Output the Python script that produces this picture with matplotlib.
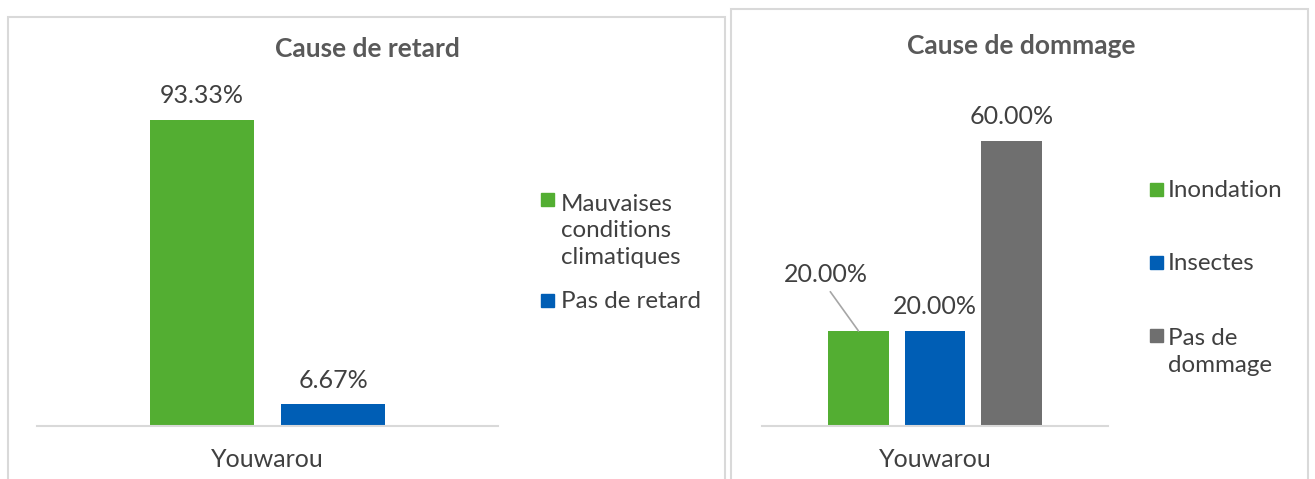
import matplotlib
matplotlib.use("Agg")
import matplotlib.pyplot as plt
from matplotlib.patches import Rectangle

plt.rcParams['font.family'] = ['Lato', 'DejaVu Sans']

# ---------------- data ----------------
category = ["Youwarou"]

retard_title = "Cause de retard"
retard_labels = ["Mauvaises\nconditions\nclimatiques", "Pas de retard"]
retard_values = [93.33, 6.67]

dommage_title = "Cause de dommage"
dommage_labels = ["Inondation", "Insectes", "Pas de\ndommage"]
dommage_values = [20.00, 20.00, 60.00]

# ---------------- style ----------------
GREEN = "#53AE32"
BLUE = "#005EB5"
GRAY = "#6F6F6F"
retard_colors = [GREEN, BLUE]
dommage_colors = [GREEN, BLUE, GRAY]
TXT = "#404040"
TITLE = "#595959"
LINE = "#D9D9D9"
FS = 18
LFS = 17.4

W, H = 1315, 479
fig = plt.figure(figsize=(W / 100, H / 100), dpi=100)


def fx(px):
    return px / W


def fy(py):
    return (H - py) / H


# panel borders
fig.add_artist(Rectangle((fx(8), fy(492)), fx(725) - fx(8), fy(17) - fy(492),
                         transform=fig.transFigure, fill=False, edgecolor=LINE, linewidth=1.5))
fig.add_artist(Rectangle((fx(731), fy(492)), fx(1308) - fx(731), fy(9) - fy(492),
                         transform=fig.transFigure, fill=False, edgecolor=LINE, linewidth=1.5))


def make_axes(left, right, base, top, ymax):
    ax = fig.add_axes([fx(left), fy(base), fx(right) - fx(left), fy(top) - fy(base)])
    ax.set_xlim(-0.5, 0.5)
    ax.set_ylim(0, ymax)
    for s in ["top", "left", "right"]:
        ax.spines[s].set_visible(False)
    ax.spines["bottom"].set_color(LINE)
    ax.spines["bottom"].set_linewidth(1.5)
    ax.set_yticks([])
    ax.set_xticks([0])
    ax.set_xticklabels(category, fontsize=FS, color=TXT)
    ax.tick_params(axis="x", length=0, pad=16)
    return ax


def draw_bars(ax, values, colors, width, step):
    n = len(values)
    bars = []
    for i, (v, c) in enumerate(zip(values, colors)):
        x = (i - (n - 1) / 2) * step
        b = ax.bar(x, v, width=width, color=c)
        bars.append(b[0])
    return bars


# ---------- left chart ----------
ax1 = make_axes(37, 498, 426, 98, 100)
bars1 = draw_bars(ax1, retard_values, retard_colors, 0.2256, 0.2842)
for b, v in zip(bars1, retard_values):
    ax1.annotate(f"{v:.2f}%", (b.get_x() + b.get_width() / 2, v), xytext=(0, 9),
                 textcoords="offset points", ha="center", va="bottom", fontsize=FS, color=TXT)
fig.text(fx(367), fy(49), retard_title, ha="center", va="center", fontsize=19,
         fontweight="bold", color=TITLE)

# ---------- right chart ----------
ax2 = make_axes(762, 1108, 426, 93.5, 70)
bars2 = draw_bars(ax2, dommage_values, dommage_colors, 0.1763, 0.2211)
for i, (b, v) in enumerate(zip(bars2, dommage_values)):
    xc = b.get_x() + b.get_width() / 2
    if i == 0:
        ax2.annotate(f"{v:.2f}%", (xc, v), xytext=(-23.5, 41), textcoords="offset points",
                     ha="center", va="center", fontsize=FS, color=TXT,
                     arrowprops=dict(arrowstyle="-", color="#A6A6A6", lw=1.2,
                                     relpos=(0.5, 0.0), shrinkA=3, shrinkB=0))
    else:
        ax2.annotate(f"{v:.2f}%", (xc, v), xytext=(0, 9), textcoords="offset points",
                     ha="center", va="bottom", fontsize=FS, color=TXT)
fig.text(fx(1021), fy(46), dommage_title, ha="center", va="center", fontsize=19,
         fontweight="bold", color=TITLE)


# ---------- legends ----------
def draw_legend(labels, colors, mx, tx, y0, gap, line_px=28.5, size=13):
    y = y0  # baseline of first line of each entry
    for lab, c in zip(labels, colors):
        extra = lab.count("\n")
        yc = y - 7.5
        fig.add_artist(Rectangle((fx(mx), fy(yc + size / 2)), size / W, size / H,
                                 transform=fig.transFigure, color=c))
        # va='baseline' aligns the last line, so place it extra lines lower
        fig.text(fx(tx), fy(y + extra * line_px), lab, ha="left", va="baseline",
                 fontsize=LFS, color=TXT, linespacing=1.33)
        y += extra * line_px + gap


draw_legend(retard_labels, retard_colors, 541, 561, 207, 44)
draw_legend(dommage_labels, dommage_colors, 1150, 1168, 197, 73)

fig.savefig("out.png", dpi=100, facecolor="white")
